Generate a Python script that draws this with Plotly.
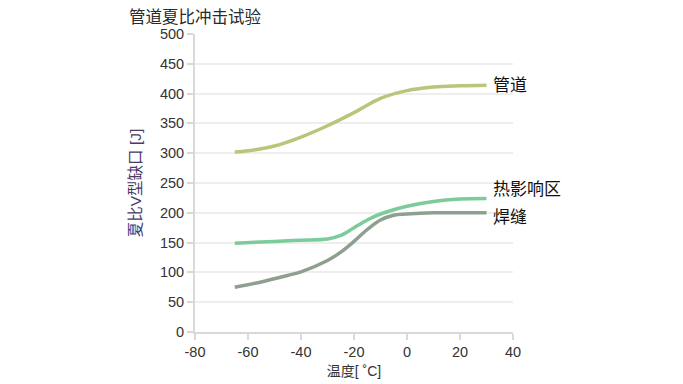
import plotly.graph_objects as go

# Data
x_pipe = [-65, -60, -50, -40, -30, -20, -10, 0, 10, 20, 30]
y_pipe = [302, 304, 312, 327, 346, 368, 392, 405, 411, 413, 414]

x_haz = [-65, -50, -40, -30, -25, -20, -15, -10, 0, 10, 20, 30]
y_haz = [149, 152, 154, 156, 162, 175, 188, 198, 211, 219, 223, 224]

x_weld = [-65, -55, -45, -40, -30, -25, -20, -15, -10, -5, 0, 10, 20, 30]
y_weld = [75, 84, 95, 101, 120, 134, 152, 172, 188, 196, 198, 200, 200, 200]

x_ticks = [-80, -60, -40, -20, 0, 20, 40]
x_ticklabels = ["-80", "-60", "-40", "-20", "0", "20", "40"]

names = ["管道", "热影响区", "焊缝"]
colors = ["#b9c67a", "#7ccb9b", "#8e9f8f"]
label_offsets = [0, 9, -5]  # pixel shift for end labels

font_family = "Liberation Sans, Noto Sans CJK SC, sans-serif"

fig = go.Figure()
series = [(x_pipe, y_pipe), (x_haz, y_haz), (x_weld, y_weld)]
for (xs, ys), name, col, off in zip(series, names, colors, label_offsets):
    fig.add_trace(go.Scatter(x=xs, y=ys, mode="lines", name=name,
                             line=dict(color=col, width=3.5, shape="spline", smoothing=1.0),
                             showlegend=False, hoverinfo="skip"))
    fig.add_annotation(x=xs[-1], y=ys[-1], text=name, showarrow=False,
                       xanchor="left", yanchor="middle", xshift=4, yshift=off,
                       font=dict(size=17, color="#111111", family=font_family))

fig.update_layout(
    width=683, height=384,
    margin=dict(l=187, r=178, t=26, b=60),
    paper_bgcolor="white", plot_bgcolor="white",
    font=dict(family=font_family, size=14, color="#333333"),
    title=dict(text="管道夏比冲击试验", x=121 / 683, xref="container", xanchor="left",
               y=0.99, yanchor="top", font=dict(size=16.5, color="#2a2a2a")),
)

fig.update_xaxes(range=[-80, 40], tickvals=x_ticks, ticktext=x_ticklabels, showgrid=False,
                 showline=True, linecolor="#d9d9d9", linewidth=2, automargin=False,
                 ticks="outside", tickcolor="#d9d9d9", ticklen=6, tickwidth=2,
                 zeroline=False, tickfont=dict(size=14.5, color="#333333"),
                 title=dict(text="温度[ ˚C]", font=dict(size=14, color="#333333"), standoff=7))
fig.update_yaxes(range=[0, 500], dtick=50, showgrid=True, gridcolor="#eeeeee", gridwidth=2,
                 showline=True, linecolor="#d9d9d9", linewidth=2, automargin=False,
                 ticks="outside", tickcolor="#d9d9d9", ticklen=6, tickwidth=2,
                 zeroline=False, tickfont=dict(size=14.5, color="#333333"),
                 title=dict(text="夏比V型缺口 [J]", font=dict(size=15.5, color="#4a3a6a"), standoff=14))

fig.write_html("out.html")
